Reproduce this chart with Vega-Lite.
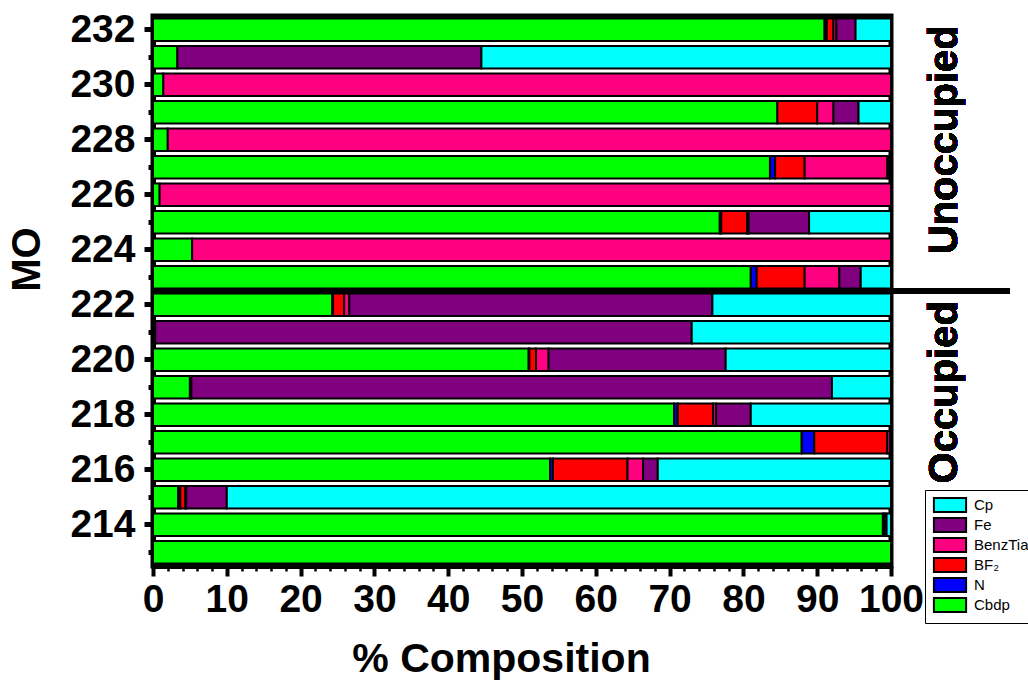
{
  "$schema": "https://vega.github.io/schema/vega-lite/v6.json",
  "autosize": "none",
  "padding": {"left": 153, "top": 16, "right": 137, "bottom": 118},
  "width": 738,
  "height": 550,
  "background": "white",
  "config": {
    "font": "Liberation Sans",
    "view": {"stroke": "black", "strokeWidth": 5},
    "axis": {
      "domainColor": "black",
      "domainWidth": 5,
      "tickColor": "black",
      "labelColor": "black",
      "titleColor": "black",
      "labelFont": "Liberation Sans",
      "titleFont": "Liberation Sans",
      "labelFontWeight": "bold",
      "titleFontWeight": "bold",
      "labelFontSize": 39,
      "titleFontSize": 40,
      "grid": false
    }
  },
  "data": {
    "values": [
      {"MO": 232, "comp": "Cbdp", "k": 1, "v": 91.0},
      {"MO": 232, "comp": "N", "k": 2, "v": 0.3},
      {"MO": 232, "comp": "BF₂", "k": 3, "v": 0.9},
      {"MO": 232, "comp": "BenzTia", "k": 4, "v": 0.4},
      {"MO": 232, "comp": "Fe", "k": 5, "v": 2.6},
      {"MO": 232, "comp": "Cp", "k": 6, "v": 4.8},
      {"MO": 231, "comp": "Cbdp", "k": 1, "v": 3.3},
      {"MO": 231, "comp": "Fe", "k": 5, "v": 41.2},
      {"MO": 231, "comp": "Cp", "k": 6, "v": 55.5},
      {"MO": 230, "comp": "Cbdp", "k": 1, "v": 1.4},
      {"MO": 230, "comp": "BenzTia", "k": 4, "v": 98.6},
      {"MO": 229, "comp": "Cbdp", "k": 1, "v": 84.6},
      {"MO": 229, "comp": "BF₂", "k": 3, "v": 5.4},
      {"MO": 229, "comp": "BenzTia", "k": 4, "v": 2.2},
      {"MO": 229, "comp": "Fe", "k": 5, "v": 3.4},
      {"MO": 229, "comp": "Cp", "k": 6, "v": 4.4},
      {"MO": 228, "comp": "Cbdp", "k": 1, "v": 2.0},
      {"MO": 228, "comp": "BenzTia", "k": 4, "v": 98.0},
      {"MO": 227, "comp": "Cbdp", "k": 1, "v": 83.6},
      {"MO": 227, "comp": "N", "k": 2, "v": 0.7},
      {"MO": 227, "comp": "BF₂", "k": 3, "v": 4.0},
      {"MO": 227, "comp": "BenzTia", "k": 4, "v": 11.2},
      {"MO": 227, "comp": "Fe", "k": 5, "v": 0.3},
      {"MO": 227, "comp": "Cp", "k": 6, "v": 0.2},
      {"MO": 226, "comp": "Cbdp", "k": 1, "v": 0.9},
      {"MO": 226, "comp": "BenzTia", "k": 4, "v": 99.1},
      {"MO": 225, "comp": "Cbdp", "k": 1, "v": 76.8},
      {"MO": 225, "comp": "N", "k": 2, "v": 0.2},
      {"MO": 225, "comp": "BF₂", "k": 3, "v": 3.5},
      {"MO": 225, "comp": "BenzTia", "k": 4, "v": 0.2},
      {"MO": 225, "comp": "Fe", "k": 5, "v": 8.2},
      {"MO": 225, "comp": "Cp", "k": 6, "v": 11.1},
      {"MO": 224, "comp": "Cbdp", "k": 1, "v": 5.3},
      {"MO": 224, "comp": "BenzTia", "k": 4, "v": 94.7},
      {"MO": 223, "comp": "Cbdp", "k": 1, "v": 81.0},
      {"MO": 223, "comp": "N", "k": 2, "v": 0.8},
      {"MO": 223, "comp": "BF₂", "k": 3, "v": 6.5},
      {"MO": 223, "comp": "BenzTia", "k": 4, "v": 4.7},
      {"MO": 223, "comp": "Fe", "k": 5, "v": 2.9},
      {"MO": 223, "comp": "Cp", "k": 6, "v": 4.1},
      {"MO": 222, "comp": "Cbdp", "k": 1, "v": 24.3},
      {"MO": 222, "comp": "N", "k": 2, "v": 0.1},
      {"MO": 222, "comp": "BF₂", "k": 3, "v": 1.5},
      {"MO": 222, "comp": "BenzTia", "k": 4, "v": 0.7},
      {"MO": 222, "comp": "Fe", "k": 5, "v": 49.2},
      {"MO": 222, "comp": "Cp", "k": 6, "v": 24.2},
      {"MO": 221, "comp": "Cbdp", "k": 1, "v": 0.3},
      {"MO": 221, "comp": "Fe", "k": 5, "v": 72.7},
      {"MO": 221, "comp": "Cp", "k": 6, "v": 27.0},
      {"MO": 220, "comp": "Cbdp", "k": 1, "v": 50.9},
      {"MO": 220, "comp": "N", "k": 2, "v": 0.1},
      {"MO": 220, "comp": "BF₂", "k": 3, "v": 0.9},
      {"MO": 220, "comp": "BenzTia", "k": 4, "v": 1.7},
      {"MO": 220, "comp": "Fe", "k": 5, "v": 24.0},
      {"MO": 220, "comp": "Cp", "k": 6, "v": 22.4},
      {"MO": 219, "comp": "Cbdp", "k": 1, "v": 5.0},
      {"MO": 219, "comp": "BenzTia", "k": 4, "v": 0.2},
      {"MO": 219, "comp": "Fe", "k": 5, "v": 86.8},
      {"MO": 219, "comp": "Cp", "k": 6, "v": 8.0},
      {"MO": 218, "comp": "Cbdp", "k": 1, "v": 70.6},
      {"MO": 218, "comp": "N", "k": 2, "v": 0.5},
      {"MO": 218, "comp": "BF₂", "k": 3, "v": 4.8},
      {"MO": 218, "comp": "BenzTia", "k": 4, "v": 0.4},
      {"MO": 218, "comp": "Fe", "k": 5, "v": 4.7},
      {"MO": 218, "comp": "Cp", "k": 6, "v": 19.0},
      {"MO": 217, "comp": "Cbdp", "k": 1, "v": 87.9},
      {"MO": 217, "comp": "N", "k": 2, "v": 1.7},
      {"MO": 217, "comp": "BF₂", "k": 3, "v": 9.9},
      {"MO": 217, "comp": "BenzTia", "k": 4, "v": 0.4},
      {"MO": 217, "comp": "Fe", "k": 5, "v": 0.1},
      {"MO": 216, "comp": "Cbdp", "k": 1, "v": 53.8},
      {"MO": 216, "comp": "N", "k": 2, "v": 0.4},
      {"MO": 216, "comp": "BF₂", "k": 3, "v": 10.1},
      {"MO": 216, "comp": "BenzTia", "k": 4, "v": 2.1},
      {"MO": 216, "comp": "Fe", "k": 5, "v": 2.0},
      {"MO": 216, "comp": "Cp", "k": 6, "v": 31.6},
      {"MO": 215, "comp": "Cbdp", "k": 1, "v": 3.4},
      {"MO": 215, "comp": "N", "k": 2, "v": 0.3},
      {"MO": 215, "comp": "BF₂", "k": 3, "v": 0.7},
      {"MO": 215, "comp": "BenzTia", "k": 4, "v": 0.1},
      {"MO": 215, "comp": "Fe", "k": 5, "v": 5.5},
      {"MO": 215, "comp": "Cp", "k": 6, "v": 90.0},
      {"MO": 214, "comp": "Cbdp", "k": 1, "v": 98.9},
      {"MO": 214, "comp": "BenzTia", "k": 4, "v": 0.2},
      {"MO": 214, "comp": "Fe", "k": 5, "v": 0.3},
      {"MO": 214, "comp": "Cp", "k": 6, "v": 0.6},
      {"MO": 213, "comp": "Cbdp", "k": 1, "v": 100.0}
    ]
  },
  "layer": [
    {
      "mark": {"type": "bar", "stroke": "black", "strokeWidth": 2, "opacity": 1},
      "encoding": {
        "y": {
          "field": "MO",
          "type": "ordinal",
          "scale": {
            "domain": [232, 231, 230, 229, 228, 227, 226, 225, 224, 223, 222, 221, 220, 219, 218, 217, 216, 215, 214, 213],
            "paddingInner": 0.18,
            "paddingOuter": 0.09
          },
          "axis": {
            "title": "MO",
            "titlePadding": 22,
            "titleY": 243,
            "labelExpr": "datum.value % 2 === 0 ? datum.label : ''",
            "tickSize": {"condition": {"test": "datum.value % 2 === 0", "value": 9}, "value": 5},
            "tickWidth": 5,
            "labelPadding": 9,
            "labelAngle": 0
          }
        },
        "x": {
          "field": "v",
          "type": "quantitative",
          "stack": "zero",
          "scale": {"domain": [0, 100], "nice": false},
          "axis": {
            "title": "% Composition",
            "titleX": 348,
            "titleFontSize": 41,
            "values": [0, 2, 4, 6, 8, 10, 12, 14, 16, 18, 20, 22, 24, 26, 28, 30, 32, 34, 36, 38, 40, 42, 44, 46, 48, 50, 52, 54, 56, 58, 60, 62, 64, 66, 68, 70, 72, 74, 76, 78, 80, 82, 84, 86, 88, 90, 92, 94, 96, 98, 100],
            "tickCount": 100,
            "labelExpr": "datum.value % 10 === 0 ? datum.label : ''",
            "tickSize": {"condition": {"test": "datum.value % 10 === 0", "value": 10}, "value": 5},
            "tickWidth": {"condition": {"test": "datum.value % 10 === 0", "value": 4}, "value": 2.5},
            "labelPadding": 4,
            "titlePadding": 20,
            "labelFlush": false,
            "labelOverlap": false
          }
        },
        "color": {
          "field": "comp",
          "type": "nominal",
          "scale": {
            "domain": ["Cp", "Fe", "BenzTia", "BF₂", "N", "Cbdp"],
            "range": ["#00FFFF", "#800080", "#FF0080", "#FF0000", "#0000FF", "#00FF00"]
          },
          "legend": {
            "title": null,
            "orient": "none",
            "legendX": 772,
            "legendY": 474,
            "strokeColor": "black",
            "fillColor": "white",
            "padding": 7,
            "symbolType": "M-2.3,-1H2.3V1H-2.3Z",
            "symbolSize": 196,
            "symbolOffset": 10,
            "symbolStrokeColor": "black",
            "symbolStrokeWidth": 2,
            "symbolOpacity": 1,
            "labelFontSize": 15,
            "labelFont": "Liberation Sans",
            "labelColor": "black",
            "labelOffset": 16,
            "rowPadding": -2
          }
        },
        "order": {"field": "k", "type": "quantitative", "sort": "ascending"}
      }
    },
    {
      "mark": {"type": "rule", "color": "black", "strokeWidth": 6, "yOffset": -2.5},
      "encoding": {
        "y": {"datum": 222, "type": "ordinal", "bandPosition": 0},
        "x": {"datum": 0, "type": "quantitative"},
        "x2": {"datum": 116}
      }
    },
    {
      "mark": {"type": "text", "text": "Unoccupied", "angle": 270, "fontSize": 40, "fontWeight": "bold", "font": "Liberation Sans", "align": "center", "baseline": "middle", "color": "black"},
      "encoding": {
        "y": {"datum": 228, "type": "ordinal"},
        "x": {"datum": 107.3, "type": "quantitative"}
      }
    },
    {
      "mark": {"type": "text", "text": "Occupied", "angle": 270, "fontSize": 40, "fontWeight": "bold", "font": "Liberation Sans", "align": "center", "baseline": "middle", "color": "black", "yOffset": 5},
      "encoding": {
        "y": {"datum": 219, "type": "ordinal"},
        "x": {"datum": 107.3, "type": "quantitative"}
      }
    }
  ]
}
